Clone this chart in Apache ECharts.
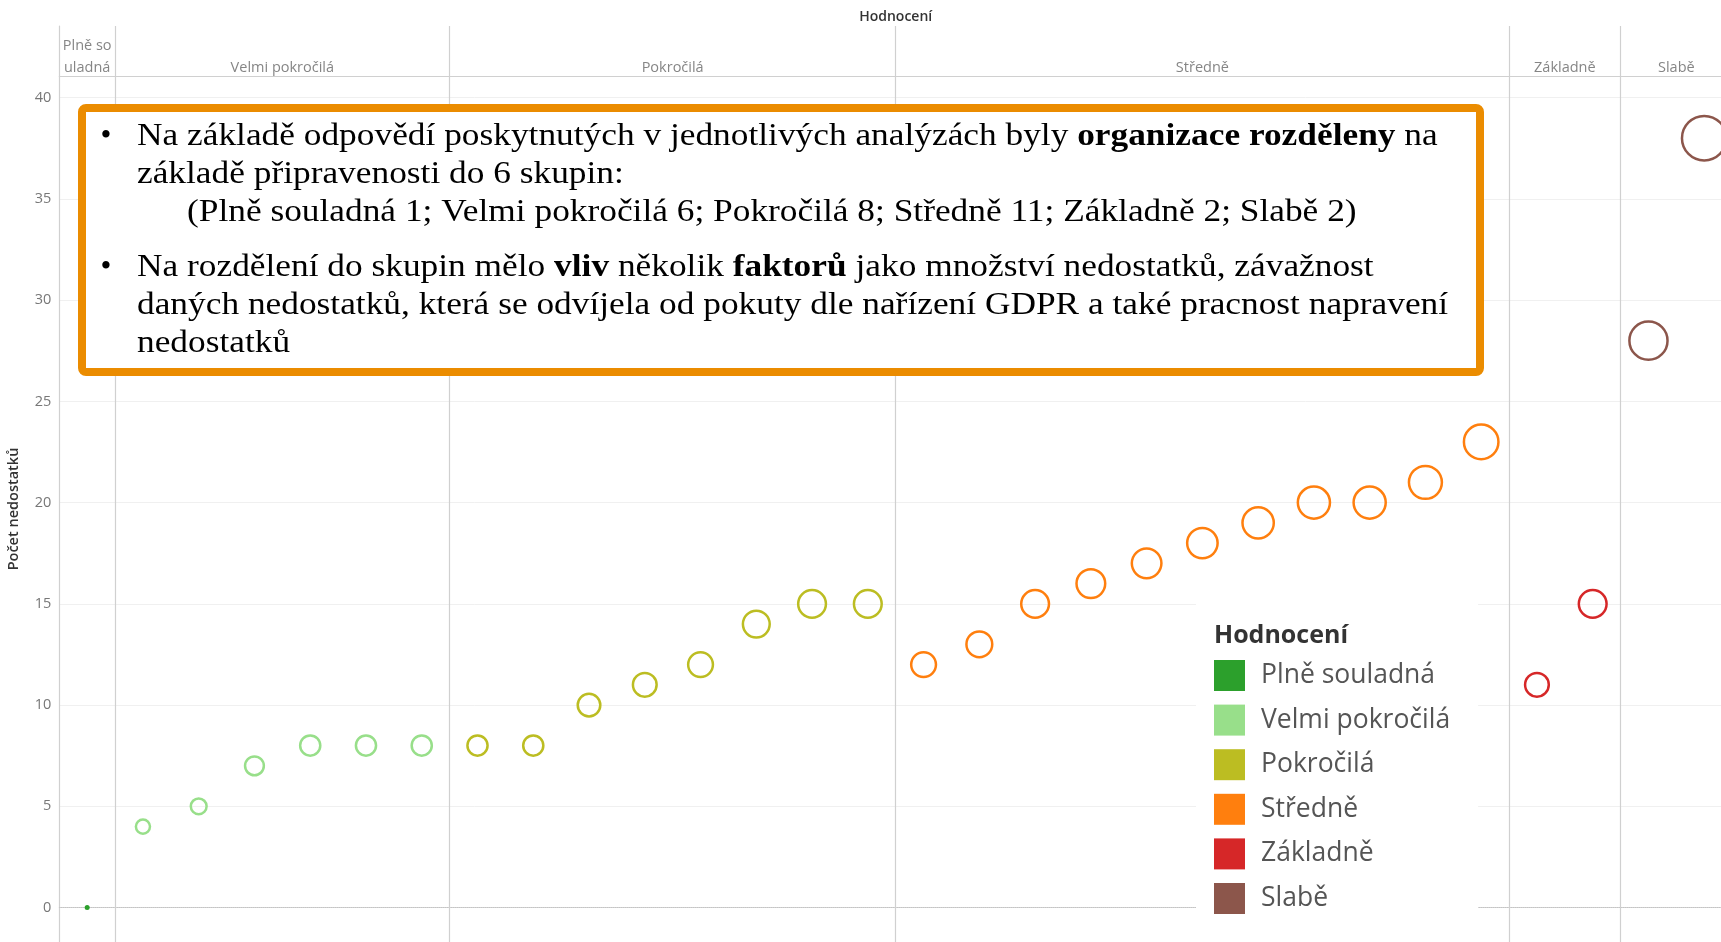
<!DOCTYPE html>
<html>
<head>
<meta charset="utf-8">
<script src="https://cdn.jsdelivr.net/npm/echarts@6/dist/echarts.min.js"></script>
<style>
  html, body { margin: 0; padding: 0; background: #fff; }
  #chart { width: 1721px; height: 942px; }
</style>
</head>
<body>
<div id="chart"></div>
<script>
// groups (Hodnocení) and their colours
const groups = ['Plně souladná', 'Velmi pokročilá', 'Pokročilá', 'Středně', 'Základně', 'Slabě'];
const headerLabels = ['Plně so\nuladná', 'Velmi pokročilá', 'Pokročilá', 'Středně', 'Základně', 'Slabě'];
const colors = ['#2ca02c', '#98df8a', '#bcbd22', '#ff7f0e', '#d62728', '#8c564b'];

// Počet nedostatků per organization, sorted inside each group
const plneSouladna = [0];
const velmiPokrocila = [4, 5, 7, 8, 8, 8];
const pokrocila = [8, 8, 10, 11, 12, 14, 15, 15];
const stredne = [12, 13, 15, 16, 17, 18, 19, 20, 20, 21, 23];
const zakladne = [11, 15];
const slabe = [28, 38];

const groupValues = [plneSouladna, velmiPokrocila, pokrocila, stredne, zakladne, slabe];

const FONT = '"Open Sans", "Noto Sans", sans-serif';
const SERIF = '"Liberation Serif", "DejaVu Serif", serif';
const LINE = '#d0d0d0';

// running x index for every organization
let idx = 0;
const boundaries = [];
const centers = [];
const pointSeries = groupValues.map((vals, g) => {
    const start = idx;
    const data = vals.map(v => [idx++, v]);
    centers.push((start + idx - 1) / 2);
    boundaries.push(idx - 0.5);
    const isDot = g === 0;
    return {
        name: groups[g],
        type: 'scatter',
        xAxisIndex: 0,
        yAxisIndex: 0,
        data: data,
        symbol: 'circle',
        symbolSize: function (val) {
            return val[1] === 0 ? 5 : 7.3 * Math.sqrt(val[1]) - 0.5;
        },
        itemStyle: isDot
            ? { color: colors[g], borderWidth: 0, opacity: 1 }
            : { color: 'rgba(255,255,255,0)', borderColor: colors[g], borderWidth: 2.5, opacity: 1 },
        emphasis: { disabled: true },
        z: 3
    };
});
const total = idx;
const separators = boundaries.slice(0, -1);

// the last column runs past the right edge of the picture
const plotLeft = 59.3;
const step = 55.76;
const xMax = -0.5 + (1721 - plotLeft) / step;

// vertical separators in the plot
pointSeries[0].markLine = {
    silent: true,
    symbol: 'none',
    label: { show: false },
    lineStyle: { color: LINE, width: 1.2, type: 'solid' },
    data: separators.map(b => ({ xAxis: b }))
};

const headerSeries = {
    name: 'header',
    type: 'scatter',
    xAxisIndex: 1,
    yAxisIndex: 1,
    symbolSize: 0,
    silent: true,
    data: centers.map((c, i) => ({ value: [c, 0], name: headerLabels[i] })),
    label: {
        show: true,
        position: 'top',
        distance: -2.5,
        formatter: p => p.name,
        color: '#666',
        fontFamily: FONT,
        fontSize: 14.5,
        lineHeight: 22
    },
    markLine: {
        silent: true,
        symbol: 'none',
        label: { show: false },
        lineStyle: { color: LINE, width: 1.2, type: 'solid' },
        data: separators.map(b => ({ xAxis: b }))
    }
};

const chart = echarts.init(document.getElementById('chart'));

const boxLines = [
    { y: 137, x: 137, text: '{r|Na základě odpovědí poskytnutých v jednotlivých analýzách byly }{b|organizace rozděleny}{r| na}' },
    { y: 175, x: 137, text: '{r|základě připravenosti do 6 skupin:}' },
    { y: 213, x: 187, text: '{r|(Plně souladná 1; Velmi pokročilá 6; Pokročilá 8; Středně 11; Základně 2; Slabě 2)}' },
    { y: 268, x: 137, text: '{r|Na rozdělení do skupin mělo }{b|vliv}{r| několik }{b|faktorů}{r| jako množství nedostatků, závažnost}' },
    { y: 306, x: 137, text: '{r|daných nedostatků, která se odvíjela od pokuty dle nařízení GDPR a také pracnost napravení}' },
    { y: 344, x: 137, text: '{r|nedostatků}' }
];
const richStyles = {
    r: { fontFamily: SERIF, fontSize: 31, color: '#000' },
    b: { fontFamily: SERIF, fontSize: 31, fontWeight: 'bold', color: '#000' }
};

const option = {
    animation: false,
    backgroundColor: '#fff',
    grid: [
        { left: plotLeft, right: 0, top: 76, height: 866, outerBoundsMode: 'none', containLabel: false },
        { left: plotLeft, right: 0, top: 26, height: 50, outerBoundsMode: 'none', containLabel: false }
    ],
    xAxis: [
        {
            type: 'value', gridIndex: 0, min: -0.5, max: xMax,
            axisLine: { show: true, onZero: true, lineStyle: { color: '#c4c4c4', type: 'dotted', width: 1 } },
            axisTick: { show: false }, axisLabel: { show: false }, splitLine: { show: false }
        },
        {
            type: 'value', gridIndex: 1, min: -0.5, max: xMax,
            axisLine: { show: true, lineStyle: { color: LINE, width: 1.2 } },
            axisTick: { show: false }, axisLabel: { show: false }, splitLine: { show: false }
        }
    ],
    yAxis: [
        {
            type: 'value', gridIndex: 0, min: -1.7, max: 41.07,
            minInterval: 5, maxInterval: 5,
            name: 'Počet nedostatků',
            nameLocation: 'middle',
            nameGap: 38,
            nameTextStyle: { fontFamily: FONT, fontSize: 14.5, fontWeight: 600, color: '#333' },
            axisLine: { show: true, onZero: false, lineStyle: { color: LINE, width: 1.2 } },
            axisTick: { show: false },
            axisLabel: {
                color: '#777', fontFamily: FONT, fontSize: 14.5, margin: 8,
                formatter: v => (v % 5 === 0 ? String(v) : '')
            },
            splitLine: { show: true, lineStyle: { color: '#f0f0f0', width: 1 } }
        },
        {
            type: 'value', gridIndex: 1, min: 0, max: 1,
            axisLine: { show: true, onZero: false, lineStyle: { color: LINE, width: 1.2 } },
            axisTick: { show: false }, axisLabel: { show: false }, splitLine: { show: false }
        }
    ],
    legend: {
        orient: 'vertical',
        left: 1196,
        top: 596,
        height: 400,
        padding: [64, 28, 28, 18],
        backgroundColor: '#fff',
        itemWidth: 31,
        itemHeight: 31,
        itemGap: 13.6,
        icon: 'rect',
        selectedMode: false,
        textStyle: { fontFamily: FONT, fontSize: 26.5, color: '#555', padding: [0, 0, 0, 11] },
        data: groups.map((g, i) => ({ name: g, itemStyle: { color: colors[i], borderWidth: 0, opacity: 1 } }))
    },
    graphic: [
        {
            type: 'text', x: plotLeft + total * step / 2, y: 17.5, z: 100,
            style: { text: 'Hodnocení', textAlign: 'center', verticalAlign: 'middle',
                     fontFamily: FONT, fontSize: 14, fontWeight: 600, fill: '#333' }
        },
        {
            type: 'text', x: 1214, y: 636, z: 100,
            style: { text: 'Hodnocení', textAlign: 'left', verticalAlign: 'middle',
                     fontFamily: FONT, fontSize: 25, fontWeight: 'bold', fill: '#333' }
        },
        {
            type: 'group', z: 100,
            children: [
                {
                    type: 'rect', z: 100,
                    shape: { x: 82, y: 108, width: 1398, height: 264, r: 4 },
                    style: { fill: '#fff', stroke: '#eb8c00', lineWidth: 8 }
                },
                { type: 'text', z: 101, x: 106, y: 137,
                  style: { text: '•', textAlign: 'center', verticalAlign: 'middle', fontFamily: SERIF, fontSize: 31, fill: '#000' } },
                { type: 'text', z: 101, x: 106, y: 268,
                  style: { text: '•', textAlign: 'center', verticalAlign: 'middle', fontFamily: SERIF, fontSize: 31, fill: '#000' } }
            ].concat(boxLines.map(l => ({
                type: 'text', z: 101, x: l.x, y: l.y, scaleX: 1.14,
                style: { text: l.text, rich: richStyles, textAlign: 'left', verticalAlign: 'middle',
                         fontFamily: SERIF, fontSize: 31, fill: '#000' }
            })))
        }
    ],
    series: pointSeries.concat([headerSeries])
};

chart.setOption(option);
</script>
</body>
</html>
